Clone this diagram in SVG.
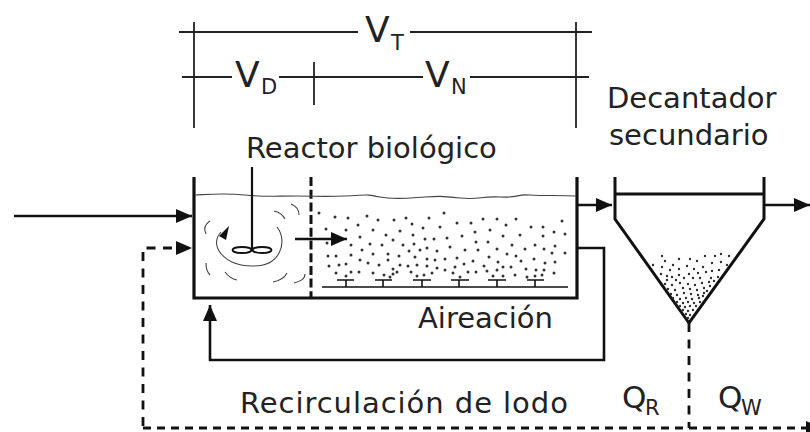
<svg xmlns="http://www.w3.org/2000/svg" width="810" height="432" viewBox="0 0 810 432">
<style>
text{font-family:"DejaVu Sans",sans-serif;font-size:29px;fill:#222}
.v{font-size:36px}.s{font-size:21px}.q{font-size:31px}.sq{font-size:21px}
.r{letter-spacing:.95px}
.l{fill:none;stroke:#222;stroke-width:1.8}
.c{fill:none;stroke:#111;stroke-width:2.6}
.d{fill:none;stroke:#111;stroke-width:2.8;stroke-dasharray:9 7.5}
.h{stroke-dasharray:8 6}
.sw{fill:none;stroke:#444;stroke-width:1.1}
.dots{fill:none;stroke:#333;stroke-width:3;stroke-linecap:round}
</style>
<defs><marker id="a" markerUnits="userSpaceOnUse" markerWidth="18" markerHeight="18" refX="16" refY="9" orient="auto"><path d="M0 2L16 9L0 16Z" fill="#111"/></marker></defs>
<g id="dimensions">
<path class="l" d="M179 32H358M410 32H592M194 22V128M576 22V128M182 77H232M279 77H423M470 77H589M314 62V105"/>
<text class="v" x="365" y="42">V</text><text class="s" x="391" y="50">T</text>
<text class="v" x="235" y="87">V</text><text class="s" x="261" y="94">D</text>
<text class="v" x="425" y="87">V</text><text class="s" x="451" y="94">N</text>
</g>
<g id="reactor">
<path d="M194 177V298H577V177" fill="none" stroke="#111" stroke-width="3.2"/>
<path d="M311 177V298" fill="none" stroke="#111" stroke-width="3" stroke-dasharray="9 3.7"/>
<path class="sw" d="M195 195C215 194 225 193 245 195S275 196 296 196S320 197 345 196S365 194 380 197S410 198 425 197S440 196 460 198S480 196 500 197S515 194 530 195S560 195 576 196"/>
<text x="246" y="158">Reactor biológico</text>
<text x="418" y="328">Aireación</text>
</g>
<g id="mixer">
<path d="M252 167V250" fill="none" stroke="#111" stroke-width="2.2"/>
<ellipse cx="242" cy="250" rx="9.5" ry="3" fill="none" stroke="#111" stroke-width="1.8"/>
<ellipse cx="262" cy="250" rx="9.5" ry="3" fill="none" stroke="#111" stroke-width="1.8"/>
<path class="sw" d="M277 227C288 241 281 267 252 266C225 266 208 246 221 232"/>
<path d="M219 236L229 226L226 240Z" fill="#111"/>
<path class="sw" d="M210 221C204 225 204 230 206 234M206 263C206 268 207 272 210 275M225 272C228 276 232 279 237 280M273 282C278 281 284 279 287 273M294 283C301 281 305 279 305 274M274 211C279 212 283 215 285 219M291 204C296 206 299 209 299 215"/>
</g>
<g id="aeration">
<path d="M322 287H568M337 280H354M346 280V287M375 280H392M383 280V287M413 280H431M422 280V287M451 280H469M459 280V287M488 280H506M497 280V287M527 280H544M535 280V287" fill="none" stroke="#111" stroke-width="1.6"/>
<path class="dots" d="M319 213h0M335 217h0M348 218h0M367 216h0M378 220h0M394 220h0M326 229h0M346 230h0M358 225h0M373 230h0M386 235h0M360 237h0M393 240h0M327 243h0M351 245h0M370 244h0M382 245h0M362 250h0M373 254h0M388 254h0M328 256h0M336 256h0M351 255h0M360 260h0M368 263h0M388 260h0M329 266h0M339 265h0M346 264h0M379 265h0M393 269h0M336 273h0M346 276h0M351 272h0M359 272h0M373 273h0M384 275h0M393 274h0M406 218h0M412 224h0M429 218h0M444 213h0M400 231h0M423 228h0M440 227h0M457 223h0M471 223h0M483 219h0M497 219h0M516 219h0M562 221h0M506 225h0M531 227h0M543 227h0M490 230h0M475 232h0M462 236h0M413 235h0M425 239h0M434 239h0M447 238h0M503 236h0M520 235h0M543 236h0M554 232h0M565 234h0M403 245h0M414 244h0M476 242h0M488 242h0M409 251h0M420 250h0M427 248h0M437 251h0M450 247h0M465 250h0M478 250h0M497 249h0M512 245h0M525 249h0M535 245h0M544 249h0M555 246h0M552 253h0M565 253h0M507 254h0M516 256h0M399 256h0M415 257h0M427 259h0M435 260h0M445 259h0M457 258h0M473 261h0M489 257h0M498 262h0M521 261h0M534 259h0M555 262h0M545 263h0M400 265h0M408 266h0M417 265h0M427 266h0M437 268h0M455 267h0M464 264h0M484 266h0M503 267h0M511 267h0M497 270h0M487 271h0M526 269h0M536 270h0M544 270h0M411 272h0M432 273h0M445 270h0M453 273h0M468 272h0M476 272h0M515 275h0M554 273h0M417 276h0M424 275h0M460 277h0M493 276h0M503 276h0M527 277h0M535 276h0M542 275h0M390 277h0M397 272h0"/>
</g>
<g id="settler">
<path d="M615 177V219L689 323L764 219V177M615 194H764" fill="none" stroke="#111" stroke-width="3"/>
<path class="dots" style="stroke-width:2.4" d="M662 256h0M665 261h0M679 259h0M690 259h0M697 261h0M705 256h0M715 256h0M721 254h0M729 256h0M721 262h0M712 263h0M653 265h0M662 267h0M673 265h0M687 266h0M703 267h0M727 265h0M670 270h0M679 269h0M694 269h0M712 271h0M719 270h0M661 274h0M667 276h0M672 277h0M679 275h0M689 274h0M698 273h0M706 272h0M718 277h0M711 278h0M700 278h0M693 278h0M684 278h0M676 280h0M667 280h0M665 284h0M672 285h0M680 283h0M688 284h0M695 285h0M702 283h0M709 282h0M714 281h0M668 289h0M675 290h0M683 288h0M690 289h0M697 290h0M704 288h0M710 286h0M671 294h0M677 295h0M684 293h0M691 294h0M698 295h0M704 293h0M707 291h0M673 298h0M680 299h0M686 298h0M692 299h0M699 298h0M703 296h0M677 302h0M683 303h0M688 302h0M694 303h0M700 302h0M680 306h0M685 307h0M690 306h0M696 306h0M683 310h0M688 311h0M693 310h0M686 314h0M690 315h0M688 318h0"/>
</g>
<g id="connectors">
<path class="c" marker-end="url(#a)" d="M14 216H192"/>
<path class="d" marker-end="url(#a)" d="M143 426V248H192"/>
<path class="c" marker-end="url(#a)" d="M295 239H347"/>
<path class="c" marker-end="url(#a)" d="M577 205H612"/>
<path class="c" marker-end="url(#a)" d="M764 205H810"/>
<path class="c" marker-end="url(#a)" d="M577 248H604V360H210V305"/>
<path class="d" d="M689 323V428"/>
<path class="d h" marker-end="url(#a)" d="M143 428H822"/>
</g>
<g id="labels">
<text x="607" y="108">Decantador</text>
<text x="609" y="145">secundario</text>
<text class="r" x="240" y="413">Recirculación de lodo</text>
<text class="q" x="622" y="408">Q</text><text class="sq" x="645" y="415">R</text>
<text class="q" x="718" y="408">Q</text><text class="sq" x="741" y="415">W</text>
</g>
</svg>
